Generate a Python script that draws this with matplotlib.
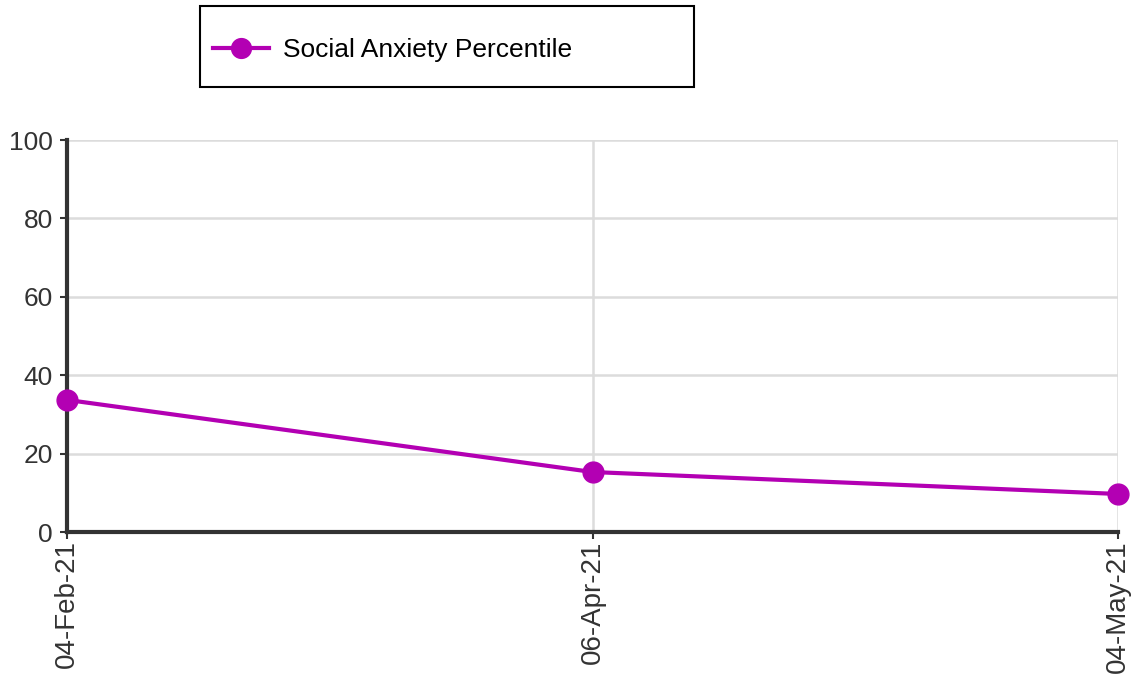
import matplotlib.pyplot as plt
from matplotlib.patches import Rectangle

dates = ["04-Feb-21", "06-Apr-21", "04-May-21"]
percentile = [33.7, 15.3, 9.7]
y_ticks = [0, 20, 40, 60, 80, 100]

plt.rcParams['font.family'] = ['Liberation Sans', 'DejaVu Sans']

purple = '#b300b3'
dark = '#333333'

fig = plt.figure(figsize=(11.37, 6.79), dpi=100)
ax = fig.add_axes([67 / 1137, 1 - 532 / 679, (1118 - 67) / 1137, (532 - 140) / 679])

x = list(range(len(dates)))
ax.plot(x, percentile, color=purple, linewidth=3, marker='o', markersize=15,
        clip_on=False, zorder=5, label='Social Anxiety Percentile')

ax.set_xlim(0, len(dates) - 1)
ax.set_ylim(0, 100)
ax.set_xticks(x)
ax.set_xticklabels(dates, rotation=90, fontsize=20, color=dark)
ax.set_yticks(y_ticks)
ax.set_yticklabels([str(v) for v in y_ticks], fontsize=19, color=dark)

ax.grid(True, color='#dcdcdc', linewidth=1.8)
ax.set_axisbelow(True)
for side in ['top', 'right']:
    ax.spines[side].set_visible(False)
for side in ['left', 'bottom']:
    ax.spines[side].set_color(dark)
    ax.spines[side].set_linewidth(3)
ax.tick_params(axis='both', length=5, width=1.5, color=dark)
ax.tick_params(axis='y', pad=5)
ax.tick_params(axis='x', pad=1)

# legend box drawn at the top
fig.patches.append(Rectangle((200 / 1137, 1 - 87 / 679), 494 / 1137, 81 / 679,
                             transform=fig.transFigure, fill=False,
                             edgecolor='black', linewidth=1.5))
fig.legend(loc='center left', bbox_to_anchor=(200 / 1137, 1 - 50 / 679),
           frameon=False, fontsize=19, handlelength=2.1, handletextpad=0.55,
           borderpad=0, borderaxespad=0.5, markerscale=0.95)

fig.savefig('out.png', dpi=100)
